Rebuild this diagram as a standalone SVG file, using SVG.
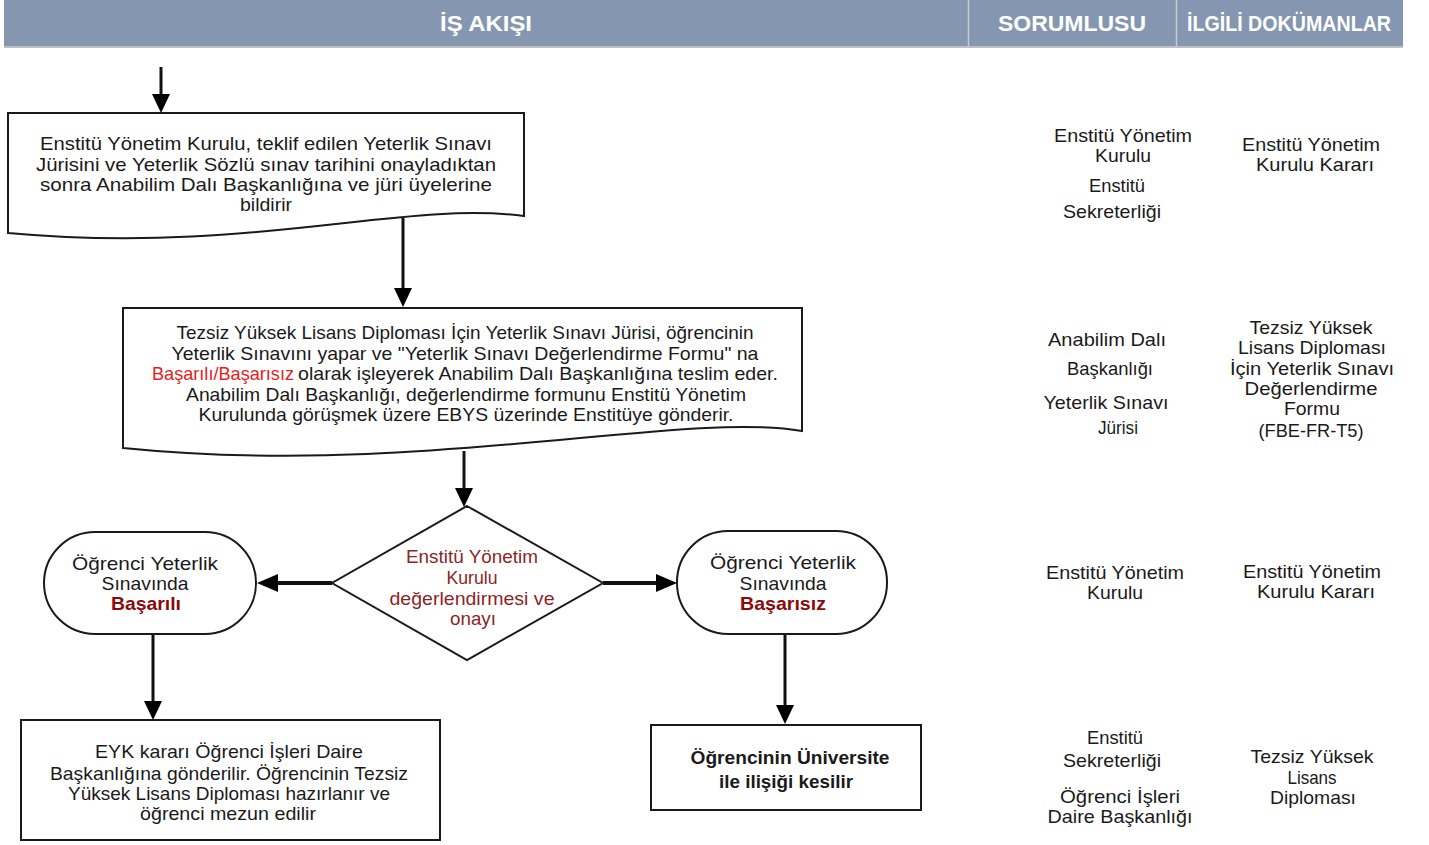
<svg xmlns="http://www.w3.org/2000/svg" width="1429" height="845" viewBox="0 0 1429 845">
<style>
text{font-family:"Liberation Sans",Arial,sans-serif;font-size:19px;fill:#1a1a1a;text-anchor:middle}
.h{fill:#fff;font-weight:bold;font-size:22px}
.dr{fill:#8e2424}
.b{font-weight:bold}
.br{font-weight:bold;fill:#8b0a0a}
.red{fill:#e8201c}
.shape{fill:#fff;stroke:#1a1a1a;stroke-width:2}
.con{stroke:#111;stroke-width:3;fill:none}
.conh{stroke:#111;stroke-width:4;fill:none}
</style>
<defs>
<marker id="ah" viewBox="0 0 10 10" refX="10" refY="5" markerWidth="7.5" markerHeight="7.5" markerUnits="userSpaceOnUse" orient="auto"/>
</defs>
<rect width="1429" height="845" fill="#fff"/>
<g id="header">
<rect x="4" y="0" width="1399" height="46" fill="#8597b0"/>
<rect x="4" y="46" width="1399" height="2" fill="#c0c0c0"/>
<line x1="968.5" y1="0" x2="968.5" y2="46" stroke="#c8ccd2" stroke-width="1.5"/>
<line x1="1176.5" y1="0" x2="1176.5" y2="46" stroke="#c8ccd2" stroke-width="1.5"/>
<text class="h" x="486" y="31" textLength="92" lengthAdjust="spacingAndGlyphs">İŞ AKIŞI</text>
<text class="h" x="1072" y="31" textLength="148" lengthAdjust="spacingAndGlyphs">SORUMLUSU</text>
<text class="h" x="1289" y="31" font-size="20" textLength="204" lengthAdjust="spacingAndGlyphs">İLGİLİ DOKÜMANLAR</text>
</g>
<g id="connectors">
<line class="con" x1="161" y1="67" x2="161" y2="96"/><polygon points="152,94 170,94 161,113"/>
<line class="con" x1="403" y1="218" x2="403" y2="290"/><polygon points="394,288 412,288 403,307"/>
<line class="con" x1="464" y1="451" x2="464" y2="490"/><polygon points="455,488 473,488 464,507"/>
<line class="conh" x1="332" y1="583" x2="276" y2="583"/><polygon points="278,574 278,592 257,583"/>
<line class="conh" x1="603" y1="583" x2="658" y2="583"/><polygon points="656,574 656,592 677,583"/>
<line class="con" x1="153" y1="634" x2="153" y2="703"/><polygon points="144,701 162,701 153,720"/>
<line class="con" x1="785" y1="634" x2="785" y2="707"/><polygon points="776,705 794,705 785,724"/>
</g>
<g id="n1">
<path class="shape" d="M8,113 H524 V216 C400,200 250,255 8,233 Z"/>
<text x="266" y="150" textLength="452" lengthAdjust="spacingAndGlyphs">Enstitü Yönetim Kurulu, teklif edilen Yeterlik Sınavı</text>
<text x="266" y="171" textLength="460" lengthAdjust="spacingAndGlyphs">Jürisini ve Yeterlik Sözlü sınav tarihini onayladıktan</text>
<text x="266" y="191" textLength="452" lengthAdjust="spacingAndGlyphs">sonra Anabilim Dalı Başkanlığına ve jüri üyelerine</text>
<text x="266" y="211" textLength="52" lengthAdjust="spacingAndGlyphs">bildirir</text>
</g>
<g id="n2">
<path class="shape" d="M123,308 H802 V431 C680,410 420,478 123,448 Z"/>
<text x="465" y="339" textLength="577" lengthAdjust="spacingAndGlyphs">Tezsiz Yüksek Lisans Diploması İçin Yeterlik Sınavı Jürisi, öğrencinin</text>
<text x="465" y="360" textLength="587" lengthAdjust="spacingAndGlyphs">Yeterlik Sınavını yapar ve "Yeterlik Sınavı Değerlendirme Formu" na</text>
<text x="223" y="380" class="red" textLength="142" lengthAdjust="spacingAndGlyphs">Başarılı/Başarısız</text>
<text x="538" y="380" textLength="480" lengthAdjust="spacingAndGlyphs">olarak işleyerek Anabilim Dalı Başkanlığına teslim eder.</text>
<text x="466" y="401" textLength="560" lengthAdjust="spacingAndGlyphs">Anabilim Dalı Başkanlığı, değerlendirme formunu Enstitü Yönetim</text>
<text x="466" y="421" textLength="535" lengthAdjust="spacingAndGlyphs">Kurulunda görüşmek üzere EBYS üzerinde Enstitüye gönderir.</text>
</g>
<g id="n3">
<polygon class="shape" points="467,506 603,583 467,660 332,583"/>
<text class="dr" x="472" y="563" textLength="132" lengthAdjust="spacingAndGlyphs">Enstitü Yönetim</text>
<text class="dr" x="472" y="584" textLength="51" lengthAdjust="spacingAndGlyphs">Kurulu</text>
<text class="dr" x="472" y="605" textLength="165" lengthAdjust="spacingAndGlyphs">değerlendirmesi ve</text>
<text class="dr" x="473" y="625" textLength="46" lengthAdjust="spacingAndGlyphs">onayı</text>
</g>
<g id="n4">
<rect class="shape" x="44" y="532" width="212" height="102" rx="51" ry="51"/>
<text x="145" y="570" textLength="146" lengthAdjust="spacingAndGlyphs">Öğrenci Yeterlik</text>
<text x="145" y="590" textLength="87" lengthAdjust="spacingAndGlyphs">Sınavında</text>
<text x="146" y="610" class="br" textLength="70" lengthAdjust="spacingAndGlyphs">Başarılı</text>
</g>
<g id="n5">
<rect class="shape" x="677" y="531" width="210" height="103" rx="51" ry="51"/>
<text x="783" y="569" textLength="146" lengthAdjust="spacingAndGlyphs">Öğrenci Yeterlik</text>
<text x="783" y="590" textLength="87" lengthAdjust="spacingAndGlyphs">Sınavında</text>
<text x="783" y="610" class="br" textLength="86" lengthAdjust="spacingAndGlyphs">Başarısız</text>
</g>
<g id="n6">
<rect class="shape" x="21" y="720" width="419" height="120"/>
<text x="229" y="758" textLength="268" lengthAdjust="spacingAndGlyphs">EYK kararı Öğrenci İşleri Daire</text>
<text x="229" y="780" textLength="358" lengthAdjust="spacingAndGlyphs">Başkanlığına gönderilir. Öğrencinin Tezsiz</text>
<text x="229" y="800" textLength="322" lengthAdjust="spacingAndGlyphs">Yüksek Lisans Diploması hazırlanır ve</text>
<text x="228" y="820" textLength="176" lengthAdjust="spacingAndGlyphs">öğrenci mezun edilir</text>
</g>
<g id="n7">
<rect class="shape" x="651" y="725" width="270" height="85"/>
<text x="790" y="764" class="b" textLength="199" lengthAdjust="spacingAndGlyphs">Öğrencinin Üniversite</text>
<text x="786" y="788" class="b" textLength="134" lengthAdjust="spacingAndGlyphs">ile ilişiği kesilir</text>
</g>
<g id="col-sorumlu">
<text x="1123" y="142" textLength="138" lengthAdjust="spacingAndGlyphs">Enstitü Yönetim</text>
<text x="1123" y="162" textLength="56" lengthAdjust="spacingAndGlyphs">Kurulu</text>
<text x="1117" y="192" textLength="56" lengthAdjust="spacingAndGlyphs">Enstitü</text>
<text x="1112" y="218" textLength="98" lengthAdjust="spacingAndGlyphs">Sekreterliği</text>
<text x="1107" y="346" textLength="118" lengthAdjust="spacingAndGlyphs">Anabilim Dalı</text>
<text x="1110" y="375" textLength="86" lengthAdjust="spacingAndGlyphs">Başkanlığı</text>
<text x="1106" y="409" textLength="125" lengthAdjust="spacingAndGlyphs">Yeterlik Sınavı</text>
<text x="1118" y="434" textLength="40" lengthAdjust="spacingAndGlyphs">Jürisi</text>
<text x="1115" y="579" textLength="138" lengthAdjust="spacingAndGlyphs">Enstitü Yönetim</text>
<text x="1115" y="599" textLength="56" lengthAdjust="spacingAndGlyphs">Kurulu</text>
<text x="1115" y="744" textLength="56" lengthAdjust="spacingAndGlyphs">Enstitü</text>
<text x="1112" y="767" textLength="98" lengthAdjust="spacingAndGlyphs">Sekreterliği</text>
<text x="1120" y="803" textLength="120" lengthAdjust="spacingAndGlyphs">Öğrenci İşleri</text>
<text x="1120" y="823" textLength="145" lengthAdjust="spacingAndGlyphs">Daire Başkanlığı</text>
</g>
<g id="col-dokuman">
<text x="1311" y="151" textLength="138" lengthAdjust="spacingAndGlyphs">Enstitü Yönetim</text>
<text x="1315" y="171" textLength="118" lengthAdjust="spacingAndGlyphs">Kurulu Kararı</text>
<text x="1311" y="334" textLength="123" lengthAdjust="spacingAndGlyphs">Tezsiz Yüksek</text>
<text x="1312" y="354" textLength="148" lengthAdjust="spacingAndGlyphs">Lisans Diploması</text>
<text x="1312" y="375" textLength="164" lengthAdjust="spacingAndGlyphs">İçin Yeterlik Sınavı</text>
<text x="1311" y="395" textLength="133" lengthAdjust="spacingAndGlyphs">Değerlendirme</text>
<text x="1312" y="415" textLength="56" lengthAdjust="spacingAndGlyphs">Formu</text>
<text x="1311" y="437" textLength="105" lengthAdjust="spacingAndGlyphs">(FBE-FR-T5)</text>
<text x="1312" y="578" textLength="138" lengthAdjust="spacingAndGlyphs">Enstitü Yönetim</text>
<text x="1316" y="598" textLength="118" lengthAdjust="spacingAndGlyphs">Kurulu Kararı</text>
<text x="1312" y="763" textLength="123" lengthAdjust="spacingAndGlyphs">Tezsiz Yüksek</text>
<text x="1312" y="784" textLength="49" lengthAdjust="spacingAndGlyphs">Lisans</text>
<text x="1313" y="804" textLength="86" lengthAdjust="spacingAndGlyphs">Diploması</text>
</g>
</svg>
